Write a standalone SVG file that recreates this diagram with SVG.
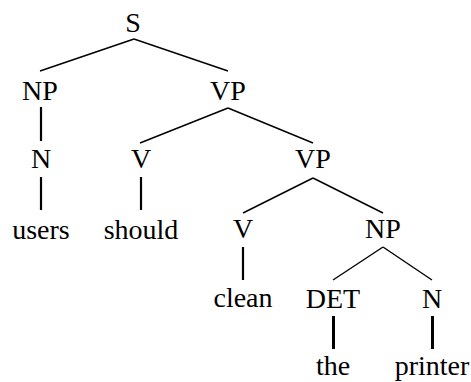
<svg xmlns="http://www.w3.org/2000/svg" width="471" height="382" viewBox="0 0 471 382">
<style>
text{font-family:"Liberation Serif","Times New Roman",serif;font-size:28px;fill:#000;text-anchor:middle}
.e{stroke:#000;stroke-width:1.4;fill:none}
.v{stroke:#000;stroke-width:2.2;fill:none}
.w{stroke:#000;stroke-width:3;fill:none}
</style>
<rect width="471" height="382" fill="#fff"/>
<g id="connectors">
<line class="e" x1="134" y1="39" x2="40" y2="71"/>
<line class="e" x1="134" y1="39" x2="228" y2="71"/>
<line class="v" x1="41" y1="107" x2="41" y2="141"/>
<line class="e" x1="228" y1="108" x2="140" y2="143"/>
<line class="e" x1="228" y1="108" x2="313" y2="143"/>
<line class="v" x1="41" y1="177" x2="41" y2="210"/>
<line class="v" x1="141" y1="177" x2="141" y2="210"/>
<line class="e" x1="313" y1="178" x2="243" y2="213"/>
<line class="e" x1="313" y1="178" x2="383" y2="213"/>
<line class="v" x1="243" y1="247" x2="243" y2="280"/>
<line class="e" x1="383" y1="247" x2="333" y2="280"/>
<line class="e" x1="383" y1="247" x2="432" y2="280"/>
<line class="w" x1="333.5" y1="316" x2="333.5" y2="349"/>
<line class="w" x1="432.5" y1="316" x2="432.5" y2="349"/>
</g>
<g id="S"><text x="133" y="32">S</text></g>
<g id="NP1"><text x="40" y="100">NP</text></g>
<g id="VP1"><text x="228" y="100">VP</text></g>
<g id="N1"><text x="41" y="168">N</text></g>
<g id="V1"><text x="141" y="168">V</text></g>
<g id="VP2"><text x="313" y="168">VP</text></g>
<g id="users"><text x="41" y="239">users</text></g>
<g id="should"><text x="141" y="239">should</text></g>
<g id="V2"><text x="243" y="238">V</text></g>
<g id="NP2"><text x="383" y="238">NP</text></g>
<g id="clean"><text x="243" y="307">clean</text></g>
<g id="DET"><text x="333" y="308">DET</text></g>
<g id="N2"><text x="432" y="308">N</text></g>
<g id="the"><text x="333" y="375">the</text></g>
<g id="printer"><text x="432" y="375">printer</text></g>
</svg>
